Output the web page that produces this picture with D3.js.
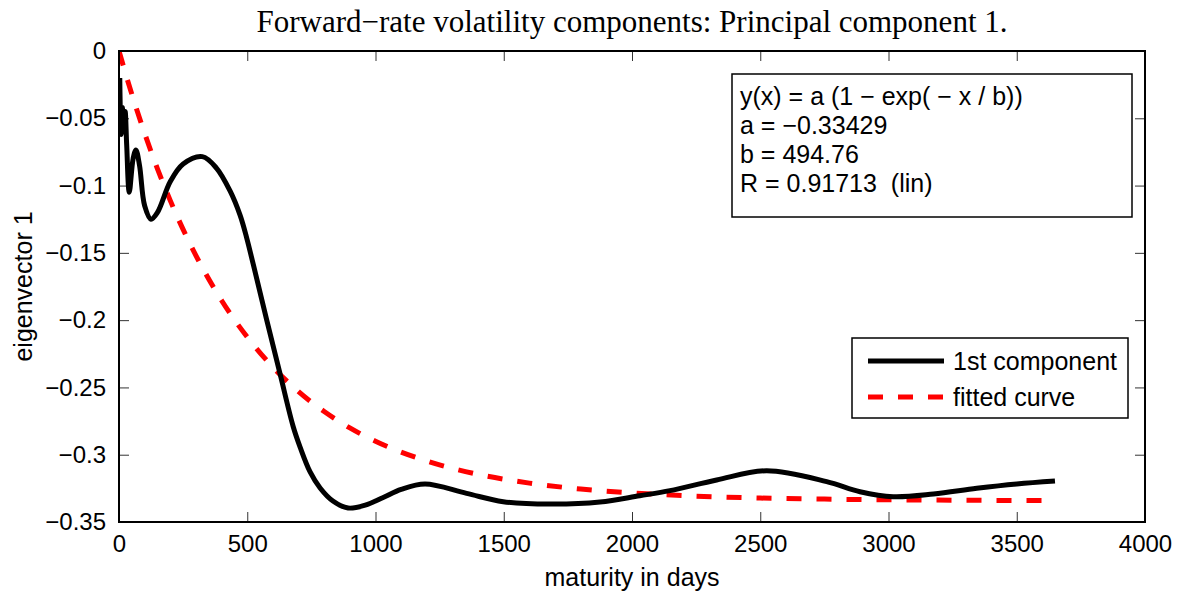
<!DOCTYPE html>
<html>
<head>
<meta charset="utf-8">
<script src="https://cdn.jsdelivr.net/npm/d3@7"></script>
<style>
  body { margin: 0; background: #fff; }
  text { font-family: "Liberation Sans", Arial, sans-serif; fill: #000; white-space: pre; }
  .title { font-family: "Liberation Serif", "Times New Roman", serif; }
</style>
</head>
<body>
<div id="chart"></div>
<script>
// days to maturity / eigenvector value
var compDays = [3, 8, 13, 18, 24, 30, 40, 55, 66, 80, 100, 125, 150, 200, 250, 325, 380, 433, 472,
    498, 524, 576, 628, 679, 706, 745, 784, 834, 893, 960, 1030, 1100, 1193, 1355, 1498, 1680, 1875,
    2030, 2148, 2330, 2525, 2759, 2889, 3018, 3175, 3344, 3500, 3649];
var compVals = [-0.020, -0.062, -0.042, -0.060, -0.045, -0.070, -0.105, -0.080, -0.0735, -0.085,
    -0.115, -0.125, -0.120, -0.097, -0.084, -0.0785, -0.087, -0.104, -0.122,
    -0.139, -0.159, -0.200, -0.240, -0.279, -0.2943, -0.3128, -0.3247, -0.3344, -0.3396, -0.3375,
    -0.3318, -0.3258, -0.3218, -0.3287, -0.3349, -0.3367, -0.3352, -0.3305, -0.3267, -0.3188,
    -0.3119, -0.320, -0.3275, -0.3312, -0.3292, -0.3250, -0.3218, -0.3196];

var fitDays = [0, 50, 100, 150, 200, 300, 400, 500, 600, 700, 800, 900, 1000, 1200, 1400, 1600,
    1800, 2000, 2250, 2500, 2750, 3000, 3250, 3500, 3650];
var fitVals = [0, -0.0321, -0.0612, -0.0876, -0.1112, -0.1520, -0.1854, -0.2126, -0.2349,
    -0.2531, -0.2679, -0.2801, -0.2900, -0.3047, -0.3146, -0.3211, -0.3255, -0.3284,
    -0.3308, -0.3322, -0.3330, -0.3335, -0.3338, -0.3340, -0.3341];

var xTicks = [0, 500, 1000, 1500, 2000, 2500, 3000, 3500, 4000];
var yTicks = [0, -0.05, -0.1, -0.15, -0.2, -0.25, -0.3, -0.35];
var legendNames = ["1st component", "fitted curve"];
var fitText = ["y(x) = a (1 \u2212 exp( \u2212 x / b))", "a = \u22120.33429", "b = 494.76", "R = 0.91713  (lin)"];

var W = 1186, H = 593,
    m = {left: 119, top: 51, right: 41, bottom: 71},
    w = W - m.left - m.right,
    h = H - m.top - m.bottom;

var x = d3.scaleLinear().domain([0, 4000]).range([0, w]);
var y = d3.scaleLinear().domain([-0.35, 0]).range([h, 0]);

var svg = d3.select("#chart").append("svg")
    .attr("width", W)
    .attr("height", H);

var g = svg.append("g")
    .attr("transform", "translate(" + m.left + "," + m.top + ")");

var fmt = function(d) { return d === 0 ? "0" : d3.format(".2~f")(d); };

function styleAxis(sel) {
  sel.select(".domain").remove();
  sel.selectAll(".tick line").attr("stroke", "#333").attr("stroke-width", 1);
  sel.selectAll(".tick text").style("font-size", "24px");
}

g.append("g")
    .attr("transform", "translate(0," + h + ")")
    .call(d3.axisBottom(x).tickValues(xTicks).tickSizeInner(-10).tickSizeOuter(0)
      .tickPadding(13).tickFormat(d3.format("d")))
    .call(styleAxis);
g.append("g")
    .call(d3.axisTop(x).tickValues(xTicks).tickSizeInner(-10).tickSizeOuter(0).tickFormat(""))
    .call(styleAxis);
g.append("g")
    .call(d3.axisLeft(y).tickValues(yTicks).tickSizeInner(-10).tickSizeOuter(0).tickPadding(13).tickFormat(fmt))
    .call(styleAxis);
g.append("g")
    .attr("transform", "translate(" + w + ",0)")
    .call(d3.axisRight(y).tickValues(yTicks).tickSizeInner(-10).tickSizeOuter(0).tickFormat(""))
    .call(styleAxis);

g.selectAll("g").attr("font-family", null);

// clip lines to the axes box
g.append("clipPath").attr("id", "clip")
  .append("rect").attr("width", w).attr("height", h);

var line = d3.line()
    .x(function(d) { return x(d[0]); })
    .y(function(d) { return y(d[1]); });

g.append("path")
    .datum(d3.zip(fitDays, fitVals))
    .attr("clip-path", "url(#clip)")
    .attr("fill", "none")
    .attr("stroke", "#ff0000")
    .attr("stroke-width", 5)
    .attr("stroke-dasharray", "15,15")
    .attr("d", line.curve(d3.curveMonotoneX));

g.append("path")
    .datum(d3.zip(compDays, compVals))
    .attr("clip-path", "url(#clip)")
    .attr("fill", "none")
    .attr("stroke", "#000")
    .attr("stroke-width", 5)
    .attr("stroke-linejoin", "round")
    .attr("d", line.curve(d3.curveCatmullRom.alpha(0.5)));

// axes box
g.append("rect")
    .attr("width", w)
    .attr("height", h)
    .attr("fill", "none")
    .attr("stroke", "#000")
    .attr("stroke-width", 2);

// fit result box
var tb = g.append("g").attr("transform", "translate(" + (732 - m.left) + "," + (74 - m.top) + ")");
tb.append("rect")
    .attr("width", 400).attr("height", 143)
    .attr("fill", "#fff").attr("stroke", "#000").attr("stroke-width", 1.5);
tb.selectAll("text").data(fitText).enter().append("text")
    .attr("x", 8)
    .attr("y", function(d, i) { return 31 + i * 29; })
    .style("font-size", "25px")
    .text(function(d) { return d; });

// legend
var lg = g.append("g").attr("transform", "translate(" + (852 - m.left) + "," + (338 - m.top) + ")");
lg.append("rect")
    .attr("width", 276).attr("height", 80)
    .attr("fill", "#fff").attr("stroke", "#000").attr("stroke-width", 1.5);
var items = lg.selectAll("g.item").data(legendNames).enter().append("g")
    .attr("class", "item")
    .attr("transform", function(d, i) { return "translate(0," + (23 + i * 36) + ")"; });
items.append("line")
    .attr("x1", 16).attr("x2", 92)
    .attr("stroke", function(d, i) { return i ? "#ff0000" : "#000"; })
    .attr("stroke-width", 5)
    .attr("stroke-dasharray", function(d, i) { return i ? "15,15" : null; });
items.append("text")
    .attr("x", 101)
    .attr("dy", "0.35em")
    .style("font-size", "25px")
    .text(function(d) { return d; });

// titles
svg.append("text")
    .attr("class", "title")
    .attr("x", m.left + w / 2)
    .attr("y", 32)
    .attr("text-anchor", "middle")
    .style("font-size", "31px")
    .text("Forward\u2212rate volatility components: Principal component 1.");

svg.append("text")
    .attr("x", m.left + w / 2)
    .attr("y", 586)
    .attr("text-anchor", "middle")
    .style("font-size", "25px")
    .text("maturity in days");

svg.append("text")
    .attr("transform", "translate(32," + (m.top + h / 2) + ")rotate(-90)")
    .attr("text-anchor", "middle")
    .style("font-size", "25px")
    .text("eigenvector 1");
</script>
</body>
</html>
